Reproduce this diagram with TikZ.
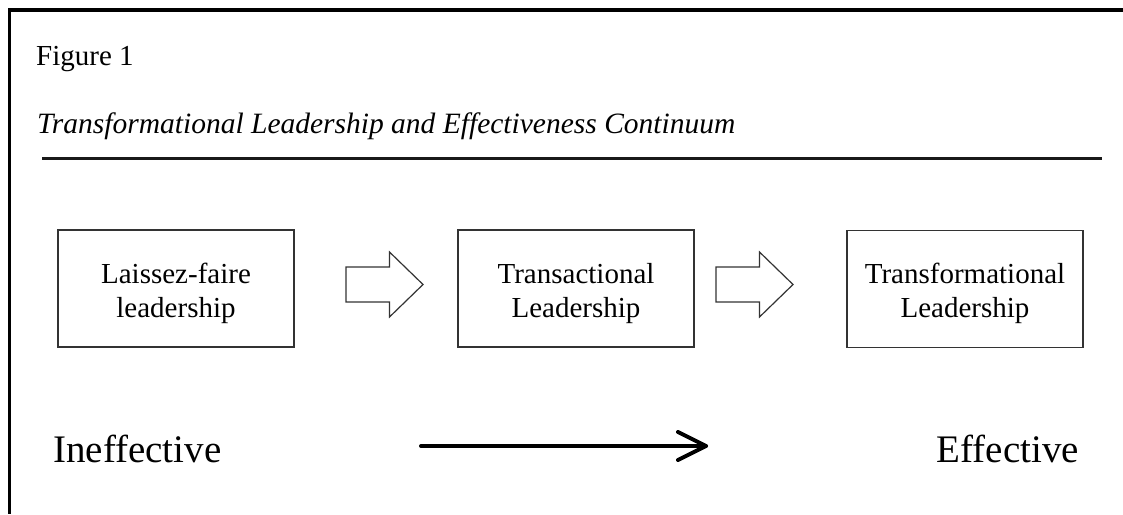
\documentclass[tikz,border=0pt]{standalone}
\usepackage{fontspec}
\setmainfont{Liberation Serif}
\usetikzlibrary{calc}
\begin{document}
\begin{tikzpicture}[x=1pt,y=-1pt,
  frameline/.style={line width=3.8pt,black},
  rule/.style={line width=3pt,black!90},
  stagebox/.style={draw=black!80,line width=1.2pt,minimum width=236pt,minimum height=117pt,inner sep=0pt},
  stagetext/.style={font=\fontsize{29}{34}\selectfont,align=center,inner sep=0pt},
  blockarrow/.style={draw=black!80,line width=1.2pt,fill=white,line join=miter},
  endlabel/.style={font=\fontsize{39}{44}\selectfont,inner sep=0pt},
  trend/.style={line width=4pt,black,line cap=round,line join=round}
]
\useasboundingbox (0,0) rectangle (1123,514);
\fill[white] (0,0) rectangle (1123,514);

% outer frame: top and left edges
\draw[frameline] (8,10) -- (1123,10);
\draw[frameline] (9.5,8) -- (9.5,514);

% heading
\node[anchor=base west,inner sep=0pt,font=\fontsize{29}{34}\selectfont] (fig) at (36,65) {Figure 1};
\node[anchor=base west,inner sep=0pt,font=\fontsize{29.5}{34}\selectfont\itshape] (title) at (37,133)
  {Transformational Leadership and Effectiveness Continuum};
\coordinate (ruleL) at (42,158);
\coordinate (ruleR) at (1102,158);
\draw[rule] (ruleL) -- (ruleR);

% three stages
\node[stagebox] (b1) at (176,288.5) {};
\node[stagebox] (b2) at (576,288.5) {};
\node[stagebox] (b3) at (965,289) {};
\node[stagetext,yshift=-4.8pt] (t1) at (b1.center) {Laissez-faire\\leadership};
\node[stagetext,yshift=-4.8pt] (t2) at (b2.center) {Transactional\\Leadership};
\node[stagetext,yshift=-4.8pt] (t3) at (b3.center) {Transformational\\Leadership};

% hollow block arrows between the stages
\foreach \sx/\nm in {346/a1,716/a2}{
  \begin{scope}[shift={(\sx,0)}]
    \draw[blockarrow] (0,267) -- (43.5,267) -- (43.5,252) -- (77,284.5)
      -- (43.5,317) -- (43.5,302) -- (0,302) -- cycle;
  \end{scope}
}

% effectiveness scale
\node[endlabel,anchor=base west] (low) at (53,462) {Ineffective};
\node[endlabel,anchor=base east] (high) at (1079,462) {Effective};
\coordinate (trendL) at (421,446);
\coordinate (trendR) at (706,446);
\draw[trend] (trendL) -- (trendR);
\draw[trend] ($(trendR)+(-28,-14)$) -- (trendR) -- ($(trendR)+(-28,14)$);
\end{tikzpicture}
\end{document}
